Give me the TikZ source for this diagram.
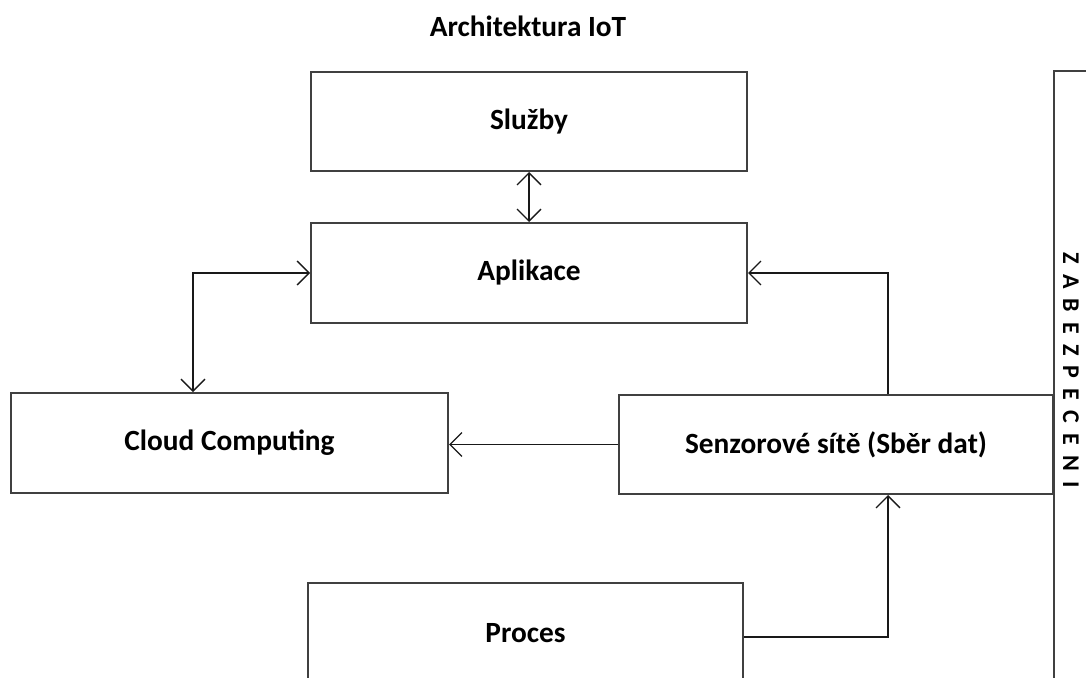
\documentclass[tikz,border=0pt]{standalone}
\usepackage{fontspec}
\setmainfont{Carlito}
\usetikzlibrary{arrows.meta}
\newcommand\lgap{\hspace{7.6pt}}
\begin{document}
\begin{tikzpicture}[x=0.75pt,y=-0.75pt,
  every node/.style={font=\bfseries\fontsize{22}{26}\selectfont},
  box/.style={draw=black!75, line width=1.5pt, inner sep=0pt, minimum width=327pt, minimum height=75pt},
  link/.style={line width=1pt, black!90, >={Straight Barb[length=9pt,width=18pt]}}]
\useasboundingbox (0,0) rectangle (1086,678);
\clip (0,0) rectangle (1086,678);

% title
\node (title) at (528,26) {Architektura IoT};

% layer boxes
\node[box, minimum height=74.25pt] (sluzby) at (529,121.5) {Služby};
\node[box] (aplikace) at (529,273) {Aplikace};
\node[box, minimum width=327.75pt] (cloud) at (229.5,443) {Cloud Computing};
\node[box, minimum width=325.5pt, minimum height=74.25pt] (senzor) at (836,444.5) {Senzorové sítě (Sběr dat)};
\node[box, minimum width=326.25pt] (proces) at (525.5,633) {Proces};

% security bar on the right
\node[box, minimum width=40pt, minimum height=500pt, anchor=north west] (zab) at (1053,70) {};
\node[rotate=-90, inner sep=0pt, font=\bfseries\fontsize{18}{20}\selectfont] (zabtext) at (1071,370)
  {Z\lgap A\lgap B\lgap E\lgap Z\lgap P\lgap E\lgap C\lgap E\lgap N\lgap I};

% routing points
\coordinate (k1) at (193,0);
\coordinate (k2) at (888,0);
\coordinate (k3) at (0,637);

% connectors
\draw[link,<->] (sluzby.south) -- (aplikace.north);
\draw[link,<->] (cloud.north -| k1) |- (aplikace.west);
\draw[link,->] (senzor.north -| k2) |- (aplikace.east);
\draw[link,->] (senzor.west) -- (senzor.west -| cloud.east);
\draw[link,->] (proces.east |- k3) -| (senzor.south -| k2);
\end{tikzpicture}
\end{document}
